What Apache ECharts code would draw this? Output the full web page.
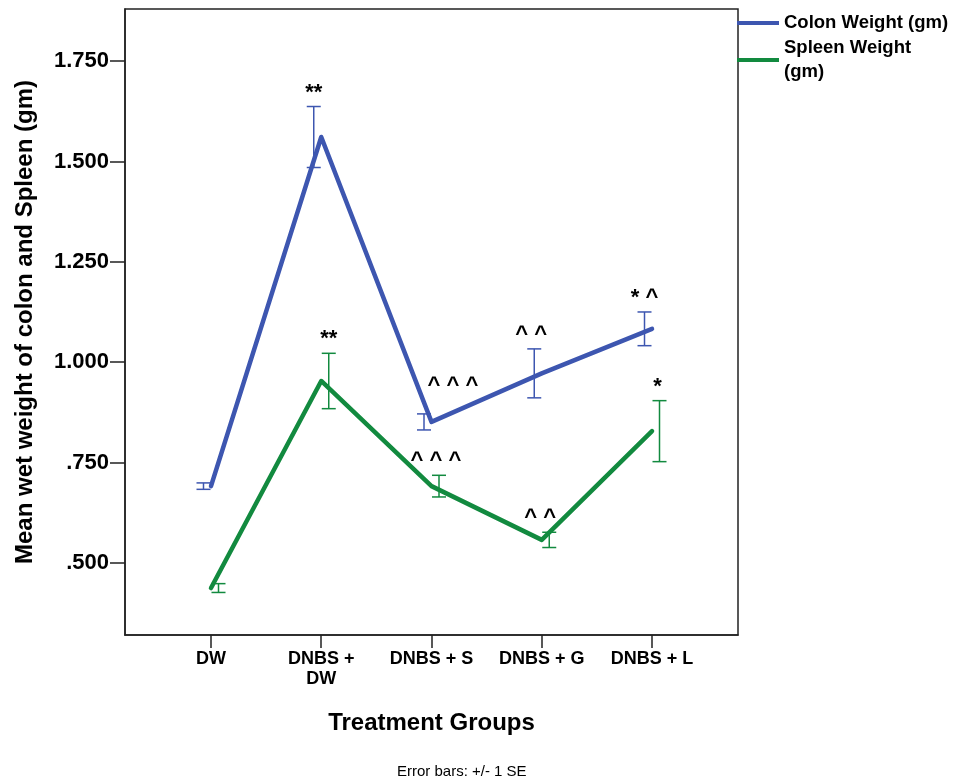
<!DOCTYPE html>
<html>
<head>
<meta charset="utf-8">
<script src="https://cdn.jsdelivr.net/npm/echarts@6/dist/echarts.min.js"></script>
<style>html,body{margin:0;padding:0;background:#fff;}#c{width:955px;height:784px;}</style>
</head>
<body>
<div id="c"></div>
<script>
const categories = ['DW', 'DNBS +\nDW', 'DNBS + S', 'DNBS + G', 'DNBS + L'];
const colonMean = [0.691, 1.561, 0.851, 0.972, 1.083];
const colonSE = [0.008, 0.076, 0.020, 0.061, 0.042];
const spleenMean = [0.437, 0.953, 0.691, 0.557, 0.828];
const spleenSE = [0.011, 0.069, 0.027, 0.019, 0.076];
const colonMarks = ['', '**', '^ ^ ^', '^ ^', '* ^'];
const spleenMarks = ['', '**', '^ ^ ^', '^ ^', '*'];
const yTicks = [0.5, 0.75, 1.0, 1.25, 1.5, 1.75];
const yTickLabels = ['.500', '.750', '1.000', '1.250', '1.500', '1.750'];

const BLUE = '#3d56b0';
const GREEN = '#128a3f';
const FONT = 'Liberation Sans, Arial, Helvetica, sans-serif';
// small label nudges (pixels) to keep annotation text off the lines
const colonNudge = [[0,0],[0,0],[29,-14],[-3,0],[0,0]];
const spleenNudge = [[0,0],[0,0],[-3,0],[-9,0],[-2,0]];

function errSeries(name, means, ses, marks, dx, color, nudge) {
  return {
    name: name,
    type: 'custom',
    silent: true,
    z: 3,
    data: means.map((m, i) => [i, m - ses[i], m + ses[i]]),
    encode: { x: 0, y: [1, 2] },
    renderItem: function (params, api) {
      const i = params.dataIndex;
      const x = api.value(0);
      const lo = api.coord([x, api.value(1)]);
      const hi = api.coord([x, api.value(2)]);
      const px = lo[0] + dx;
      const cw = 7;
      const ls = { stroke: color, lineWidth: 1.5 };
      const children = [
        { type: 'line', shape: { x1: px, y1: lo[1], x2: px, y2: hi[1] }, style: ls },
        { type: 'line', shape: { x1: px - cw, y1: lo[1], x2: px + cw, y2: lo[1] }, style: ls },
        { type: 'line', shape: { x1: px - cw, y1: hi[1], x2: px + cw, y2: hi[1] }, style: ls }
      ];
      if (marks[i]) {
        children.push({
          type: 'text',
          style: {
            text: marks[i],
            x: px + nudge[i][0],
            y: hi[1] - 3 + nudge[i][1],
            align: 'center',
            verticalAlign: 'bottom',
            fontSize: 22,
            fontWeight: 'bold',
            fontFamily: FONT,
            fill: '#000'
          }
        });
      }
      return { type: 'group', children: children };
    }
  };
}

const chart = echarts.init(document.getElementById('c'), null, { renderer: 'canvas' });
chart.setOption({
  backgroundColor: '#fff',
  animation: false,
  grid: {
    left: 125, right: 217, top: 9, bottom: 149,
    show: true, borderColor: '#222', borderWidth: 1.5, backgroundColor: 'transparent'
  },
  legend: {
    orient: 'vertical',
    left: 737, top: 11, padding: 0,
    itemGap: 1,
    itemWidth: 42, itemHeight: 4,
    icon: 'rect',
    data: ['Colon Weight (gm)', 'Spleen Weight (gm)'],
    formatter: function (n) { return n === 'Spleen Weight (gm)' ? 'Spleen Weight\n(gm)' : n; },
    textStyle: { fontSize: 18.5, fontWeight: 'bold', fontFamily: FONT, color: '#000', lineHeight: 24, padding: [0,0,0,0] }
  },
  xAxis: {
    type: 'value',
    min: -0.78, max: 4.78,
    name: 'Treatment Groups',
    nameLocation: 'middle',
    nameGap: 76,
    nameTextStyle: { fontSize: 24, fontWeight: 'bold', fontFamily: FONT, color: '#000' },
    splitLine: { show: false },
    axisLine: { show: true, onZero: false, lineStyle: { color: '#222', width: 1.5 } },
    axisTick: { show: true, customValues: categories.map((c, i) => i), length: 13, lineStyle: { color: '#222', width: 1.5 } },
    axisLabel: {
      customValues: categories.map((c, i) => i),
      formatter: function (v) { return categories[Math.round(v)]; },
      margin: 14,
      fontSize: 18, fontWeight: 'bold', fontFamily: FONT, color: '#000', lineHeight: 20
    }
  },
  yAxis: {
    type: 'value',
    min: 0.32, max: 1.88,
    name: 'Mean wet weight of colon and Spleen (gm)',
    nameLocation: 'middle',
    nameGap: 88,
    nameRotate: 90,
    nameTextStyle: { fontSize: 24, fontWeight: 'bold', fontFamily: FONT, color: '#000' },
    splitLine: { show: false },
    axisLine: { show: true, onZero: false, lineStyle: { color: '#222', width: 1.5 } },
    axisTick: { show: true, customValues: yTicks, length: 15, lineStyle: { color: '#222', width: 1.5 } },
    axisLabel: {
      customValues: yTicks,
      formatter: function (v) {
        for (let k = 0; k < yTicks.length; k++) if (Math.abs(yTicks[k] - v) < 1e-6) return yTickLabels[k];
        return '';
      },
      margin: 16,
      fontSize: 22, fontWeight: 'bold', fontFamily: FONT, color: '#000'
    }
  },
  graphic: [{
    type: 'text',
    left: 397,
    top: 764,
    style: { text: 'Error bars: +/- 1 SE', fontSize: 15, fontFamily: FONT, fill: '#000' }
  }],
  series: [
    {
      name: 'Colon Weight (gm)', type: 'line', symbol: 'none', z: 4,
      itemStyle: { color: BLUE },
      lineStyle: { color: BLUE, width: 4.5, cap: 'round', join: 'round' },
      data: colonMean.map((v, i) => [i, v])
    },
    {
      name: 'Spleen Weight (gm)', type: 'line', symbol: 'none', z: 4,
      itemStyle: { color: GREEN },
      lineStyle: { color: GREEN, width: 4.5, cap: 'round', join: 'round' },
      data: spleenMean.map((v, i) => [i, v])
    },
    errSeries('colonErr', colonMean, colonSE, colonMarks, -7.5, BLUE, colonNudge),
    errSeries('spleenErr', spleenMean, spleenSE, spleenMarks, 7.5, GREEN, spleenNudge)
  ]
});
</script>
</body>
</html>
